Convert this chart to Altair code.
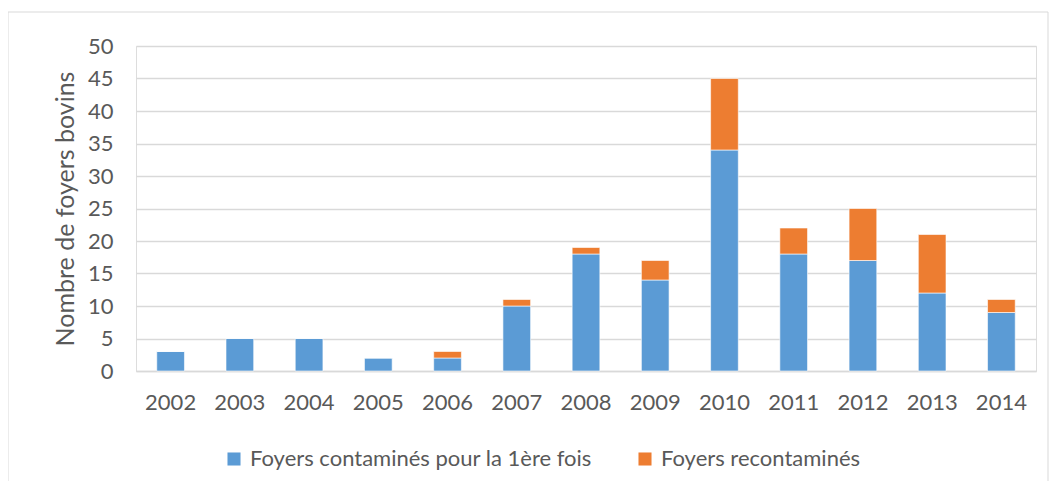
import altair as alt
import pandas as pd

years = ["2002", "2003", "2004", "2005", "2006", "2007", "2008",
         "2009", "2010", "2011", "2012", "2013", "2014"]
first_time = [3, 5, 5, 2, 2, 10, 18, 14, 34, 18, 17, 12, 9]
recontaminated = [0, 0, 0, 0, 1, 1, 1, 3, 11, 4, 8, 9, 2]
series = ["Foyers contaminés pour la 1ère fois", "Foyers recontaminés"]
colors = ["#5B9BD5", "#ED7D31"]

rows = []
for y, a, b in zip(years, first_time, recontaminated):
    rows.append({"year": y, "series": series[0], "value": a, "ord": 0})
    rows.append({"year": y, "series": series[1], "value": b, "ord": 1})
df = pd.DataFrame(rows)

FONT = "Lato"
GREY = "#595959"

bars = alt.Chart(df).mark_bar(stroke="white", strokeWidth=0.6).encode(
    x=alt.X("year:N", sort=years, title=None,
            scale=alt.Scale(paddingInner=0.6, paddingOuter=0.3),
            axis=alt.Axis(labelAngle=0, labelFontSize=22, labelColor=GREY,
                          labelFont=FONT, labelPadding=21, ticks=False,
                          domainColor="#D9D9D9", domainWidth=1.5)),
    y=alt.Y("value:Q", stack="zero", title="Nombre de foyers bovins",
            scale=alt.Scale(domain=[0, 50]),
            axis=alt.Axis(values=list(range(0, 51, 5)), labelFontSize=22,
                          labelColor=GREY, labelFont=FONT, labelPadding=23,
                          ticks=False, domain=False, gridColor="#D9D9D9",
                          gridWidth=1.5, titleFont=FONT, titleFontSize=25,
                          titleColor=GREY, titleFontWeight="normal",
                          titlePadding=9)),
    color=alt.Color("series:N", sort=series,
                    scale=alt.Scale(domain=series, range=colors),
                    legend=alt.Legend(title=None, orient="none",
                                      direction="horizontal",
                                      legendX=87, legendY=402,
                                      symbolType="square", symbolSize=170,
                                      symbolStrokeWidth=0,
                                      labelFont=FONT, labelFontSize=22,
                                      labelColor=GREY, columnPadding=42,
                                      labelOffset=5, labelLimit=600)),
    order=alt.Order("ord:Q"),
)

border = alt.Chart(pd.DataFrame({"k": [0]})).mark_rect(
    fill=None, stroke="#D9D9D9", strokeWidth=1
).encode(
    x=alt.value(-128), x2=alt.value(912),
    y=alt.value(-34), y2=alt.value(480),
)

chart = alt.layer(border, bars).properties(
    width=900, height=325,
    padding={"left": 128, "top": 38, "right": 13, "bottom": 110},
    autosize=alt.AutoSizeParams(type="none"),
).configure_view(stroke=None).configure(background="white")

chart.save("out.html", embed_options={"renderer": "svg", "actions": False})
